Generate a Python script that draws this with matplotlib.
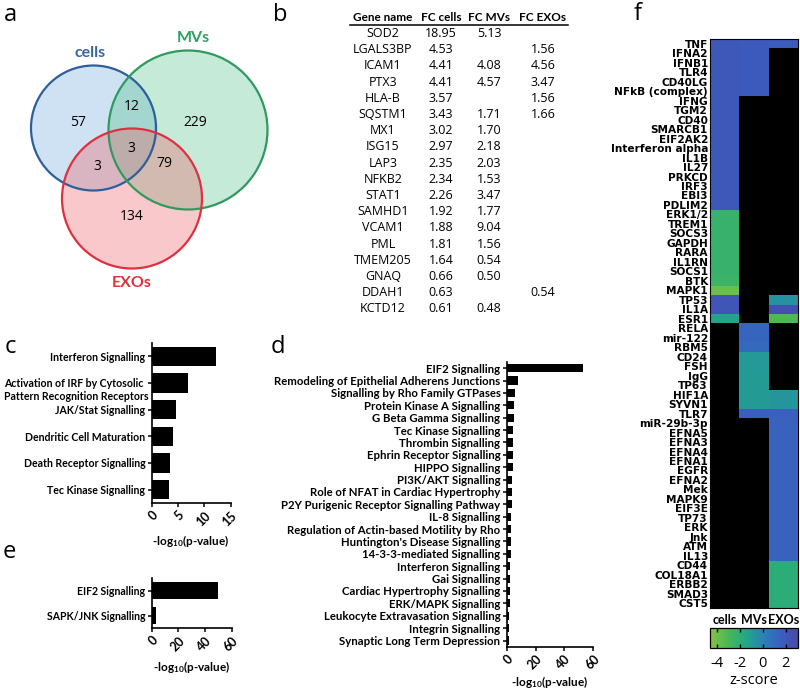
import numpy as np
import matplotlib
matplotlib.use('Agg')
import matplotlib.pyplot as plt
from matplotlib.patches import Circle
from matplotlib.colors import LinearSegmentedColormap
import matplotlib.transforms as mtransforms

plt.rcParams['font.family'] = ['Lato', 'DejaVu Sans']
plt.rcParams['mathtext.default'] = 'regular'

# ---------------- data ----------------
venn_sets = ['cells', 'MVs', 'EXOs']
# regions: cells only, cells&MVs, MVs only, all three, cells&EXOs, MVs&EXOs, EXOs only
venn_counts = [57, 12, 229, 3, 3, 79, 134]

table_header = ['Gene name', 'FC cells', 'FC MVs', 'FC EXOs']
genes = ['SOD2', 'LGALS3BP', 'ICAM1', 'PTX3', 'HLA-B', 'SQSTM1', 'MX1', 'ISG15', 'LAP3',
         'NFKB2', 'STAT1', 'SAMHD1', 'VCAM1', 'PML', 'TMEM205', 'GNAQ', 'DDAH1', 'KCTD12']
fc_cells = ['18.95', '4.53', '4.41', '4.41', '3.57', '3.43', '3.02', '2.97', '2.35',
            '2.34', '2.26', '1.92', '1.88', '1.81', '1.64', '0.66', '0.63', '0.61']
fc_mvs = ['5.13', '', '4.08', '4.57', '', '1.71', '1.70', '2.18', '2.03',
          '1.53', '3.47', '1.77', '9.04', '1.56', '0.54', '0.50', '', '0.48']
fc_exos = ['', '1.56', '4.56', '3.47', '1.56', '1.66', '', '', '',
           '', '', '', '', '', '', '', '0.54', '']

c_terms = ['Interferon Signalling',
           'Activation of IRF by Cytosolic \nPattern Recognition Receptors',
           'JAK/Stat Signalling', 'Dendritic Cell Maturation',
           'Death Receptor Signalling', 'Tec Kinase Signalling']
c_vals = [12.2, 7.0, 4.7, 4.1, 3.4, 3.3]

d_terms = ['EIF2 Signalling', 'Remodeling of Epithelial Adherens Junctions',
           'Signalling by Rho Family GTPases', 'Protein Kinase A Signalling',
           'G Beta Gamma Signalling', 'Tec Kinase Signalling', 'Thrombin Signalling',
           'Ephrin Receptor Signalling', 'HIPPO Signalling', 'PI3K/AKT Signalling',
           'Role of NFAT in Cardiac Hypertrophy', 'P2Y Purigenic Receptor Signalling Pathway',
           'IL-8 Signalling', 'Regulation of Actin-based Motility by Rho',
           "Huntington's Disease Signalling", '14-3-3-mediated Signalling',
           'Interferon Signalling', 'Gai Signalling', 'Cardiac Hypertrophy Signalling',
           'ERK/MAPK Signalling', 'Leukocyte Extravasation Signalling',
           'Integrin Signalling', 'Synaptic Long Term Depression']
d_vals = [53, 8.0, 5.8, 5.0, 5.0, 4.6, 4.6, 4.4, 4.2, 3.7, 3.5, 3.5,
          3.2, 3.2, 3.0, 2.8, 2.3, 2.3, 2.1, 2.1, 1.9, 1.9, 1.9]

e_terms = ['EIF2 Signalling', 'SAPK/JNK Signalling']
e_vals = [50, 3.2]

hm_columns = ['cells', 'MVs', 'EXOs']
hm_genes = ['TNF', 'IFNA2', 'IFNB1', 'TLR4', 'CD40LG', 'NFkB (complex)', 'IFNG', 'TGM2',
            'CD40', 'SMARCB1', 'EIF2AK2', 'Interferon alpha', 'IL1B', 'IL27', 'PRKCD',
            'IRF3', 'EBI3', 'PDLIM2', 'ERK1/2', 'TREM1', 'SOCS3', 'GAPDH', 'RARA', 'IL1RN',
            'SOCS1', 'BTK', 'MAPK1', 'TP53', 'IL1A', 'ESR1', 'RELA', 'mir-122', 'RBM5',
            'CD24', 'FSH', 'IgG', 'TP63', 'HIF1A', 'SYVN1', 'TLR7', 'miR-29b-3p', 'EFNA5',
            'EFNA3', 'EFNA4', 'EFNA1', 'EGFR', 'EFNA2', 'Mek', 'MAPK9', 'EIF3E', 'TP73',
            'ERK', 'Jnk', 'ATM', 'IL13', 'CD44', 'COL18A1', 'ERBB2', 'SMAD3', 'CST5']
nan = np.nan
z_cells = [2.0, 2.0, 2.0, 2.0, 2.0, 2.0, 2.0, 2.0, 2.0, 2.0, 2.0, 2.0, 2.0, 2.0, 2.0,
           2.0, 2.0, 2.0, -2.4, -2.4, -2.4, -2.4, -2.4, -2.4, -2.4, -2.6, -3.9,
           2.2, 2.1, -1.4] + [nan] * 30
z_mvs = [1.8, 1.8, 1.8, 1.8, 1.8, 1.8] + [nan] * 24 + \
        [1.3, 1.3, 1.1, -0.9, -0.9, -1.0, -1.0, -1.0, -1.0, 1.6] + [nan] * 20
z_exos = [1.7] + [nan] * 26 + [-0.6, 2.5, -3.2] + [nan] * 7 + \
         [-0.8, -0.8, 1.5] + [1.4] * 15 + [-1.9] * 5
cbar_ticks = [-4, -2, 0, 2]

# ---------------- figure ----------------
W, H = 800, 694
fig = plt.figure(figsize=(W / 100, H / 100), dpi=100)
bg = fig.add_axes([0, 0, 1, 1])
bg.set_xlim(0, W)
bg.set_ylim(H, 0)
bg.axis('off')

def fax(l, t, r, b):
    return fig.add_axes([l / W, 1 - b / H, (r - l) / W, (b - t) / H])

# panel letters
for lab, x, y in [('a', 10, 15), ('b', 280, 15), ('c', 10, 347), ('d', 278, 347),
                  ('e', 9, 552), ('f', 638, 14)]:
    bg.text(x, y, lab, fontsize=17, ha='center', va='center', family='Open Sans')

# ---------------- a: Venn ----------------
circ_xy = [(93.5, 128), (188, 130), (132, 198.5)]
circ_r = [62.5, 79.5, 70]
fills = ['#6fa8dc', '#4fc08a', '#ef5a60']
edges = ['#2f5f9a', '#2f9a5e', '#df3040']
txtc = ['#3566a8', '#2fa062', '#e0303a']
for (cx, cy), r, fc in zip(circ_xy, circ_r, fills):
    bg.add_patch(Circle((cx, cy), r, facecolor=fc, alpha=0.33, edgecolor='none'))
for (cx, cy), r, ec in zip(circ_xy, circ_r, edges):
    bg.add_patch(Circle((cx, cy), r, facecolor='none', edgecolor=ec, lw=1.6))
set_label_pos = [(90, 53), (193, 38), (132, 283)]
for name, (x, y), c in zip(venn_sets, set_label_pos, txtc):
    bg.text(x, y, name, color=c, fontsize=11.5, fontweight='bold', ha='center', va='center')
region_pos = [(78, 122), (132, 106), (195, 122), (131, 148), (97, 166), (164, 163), (132, 216)]
for n, (x, y) in zip(venn_counts, region_pos):
    bg.text(x, y, str(n), fontsize=10, ha='center', va='center', family='Open Sans')

# ---------------- b: table ----------------
col_x = [383, 441, 489, 543]
for hx, h in zip(col_x, table_header):
    bg.text(hx, 17, h, fontsize=8.5, fontweight='bold', ha='center', va='center')
bg.plot([350, 568], [25, 25], color='black', lw=1.1)
for i, row in enumerate(zip(genes, fc_cells, fc_mvs, fc_exos)):
    y = 33.5 + i * 16.2
    for hx, v in zip(col_x, row):
        if v:
            bg.text(hx, y, v, fontsize=9, ha='center', va='center', family='Open Sans')

# ---------------- bar panels ----------------
def barpanel(ax, terms, vals, xmax, step, height, fs):
    y = np.arange(len(terms))
    ax.barh(y, vals, height=height, color='black')
    ax.set_ylim(len(terms) - 0.5, -0.5)
    ax.set_xlim(0, xmax)
    ax.set_yticks(y)
    first_lines = [t.split('\n')[0] for t in terms]
    ax.set_yticklabels(first_lines, fontsize=fs, fontweight='bold')
    trans = mtransforms.blended_transform_factory(ax.transAxes, ax.transData)
    for yi, t in zip(y, terms):
        parts = t.split('\n')
        if len(parts) > 1:
            ax.text(-0.045, yi + 0.52, parts[1], transform=trans, ha='right', va='center',
                    fontsize=fs, fontweight='bold')
    ticks = np.arange(0, xmax + 0.1, step)
    ax.set_xticks(ticks)
    ax.set_xticklabels([str(int(v)) for v in ticks],
                       rotation=45, fontsize=9, fontweight='bold', ha='right',
                       va='top', rotation_mode='anchor')
    for s in ['top', 'right']:
        ax.spines[s].set_visible(False)
    for s in ['left', 'bottom']:
        ax.spines[s].set_linewidth(1.2)
    ax.tick_params(axis='both', direction='out', length=3, width=1.1, pad=1.5)
    ax.set_facecolor('none')
    ax.set_xlabel('-log$_{10}$(p-value)', fontsize=8.5, fontweight='bold')

ax_c = fax(151.7, 343, 230.5, 503)
barpanel(ax_c, c_terms, c_vals, 15, 5, 0.72, 7.6)
ax_c.xaxis.set_label_coords(0.5, -0.185)

ax_e = fax(151.7, 578, 231.7, 628)
barpanel(ax_e, e_terms, e_vals, 60, 20, 0.7, 7.6)
ax_e.xaxis.set_label_coords(0.5, -0.62)

ax_d = fax(506.7, 362, 593.3, 646.7)
barpanel(ax_d, d_terms, d_vals, 60, 20, 0.66, 8.2)
ax_d.xaxis.set_label_coords(0.5, -0.095)

# ---------------- f: heatmap ----------------
cmap = LinearSegmentedColormap.from_list('gb', [
    (0.0, '#86c443'), (0.20, '#49b957'), (0.40, '#22a884'),
    (0.60, '#2a83b5'), (0.80, '#3a5fc0'), (1.0, '#4a48a8')])
vmin, vmax = -4.65, 3.1
Z = np.ma.masked_invalid(np.array([z_cells, z_mvs, z_exos], dtype=float).T)
ax_f = fax(710, 39, 798, 608)
ax_f.set_facecolor('black')
im = ax_f.imshow(Z, cmap=cmap, vmin=vmin, vmax=vmax, aspect='auto',
                 interpolation='nearest')
ax_f.set_yticks(np.arange(len(hm_genes)))
ax_f.set_yticklabels(hm_genes, fontsize=7.6, fontweight='bold', family='DejaVu Sans')
ax_f.set_xticks([])
ax_f.tick_params(axis='y', length=0, pad=1.5)
for s in ax_f.spines.values():
    s.set_linewidth(0.8)
trans = mtransforms.blended_transform_factory(ax_f.transData, ax_f.transAxes)
for i, name in enumerate(hm_columns):
    ax_f.text(i, -0.021, name, transform=trans, ha='center', va='center',
              fontsize=9, fontweight='bold')

ax_cb = fax(710, 628, 798, 648)
cb = fig.colorbar(im, cax=ax_cb, orientation='horizontal', ticks=cbar_ticks)
cb.outline.set_linewidth(0.9)
ax_cb.tick_params(axis='x', direction='in', top=True, bottom=True, length=3,
                  width=1, labelsize=10.5, pad=6)
ax_cb.set_xticklabels([str(t) for t in cbar_ticks], family='Open Sans')
ax_cb.set_xlabel('z-score', fontsize=10.5, family='Open Sans', labelpad=1)

fig.savefig('out.png', dpi=100)
